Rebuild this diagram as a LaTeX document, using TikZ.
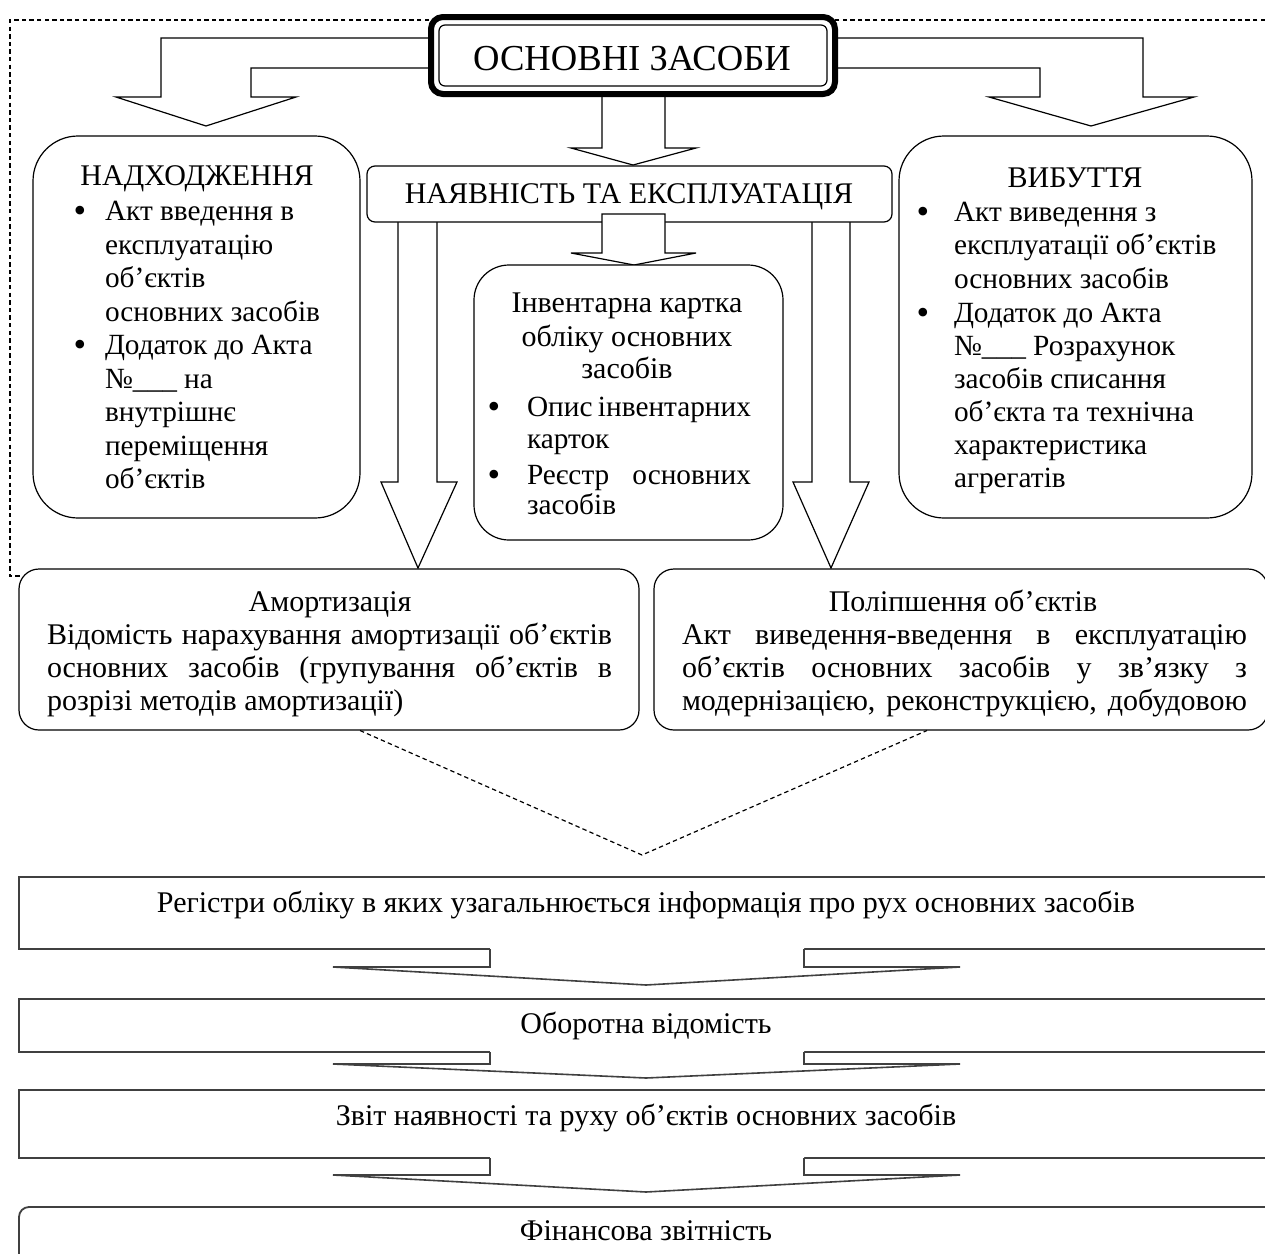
\documentclass[tikz,border=0pt]{standalone}
\usepackage{fontspec}
\setmainfont{Liberation Serif}
\newcommand\fs{\fontsize{15}{17}\selectfont}
\newcommand\fsl{\fontsize{14.65}{17}\selectfont}
\newcommand\fsbig{\fontsize{18.3}{21}\selectfont}
\newcommand\fsbul{\fontsize{18}{20}\selectfont}
\begin{document}
\begin{tikzpicture}[x=0.5pt,y=-0.5pt,
 bx/.style={draw, fill=white, line width=0.6pt, inner sep=0pt, outer sep=0pt},
 tc/.style={anchor=base, inner sep=0pt, outer sep=0pt, font=\fs},
 tl/.style={anchor=base west, inner sep=0pt, outer sep=0pt, font=\fs},
 hl/.style={anchor=base west, inner sep=0pt, outer sep=0pt, font=\fsl},
 bul/.style={anchor=center, inner sep=0pt, outer sep=0pt, font=\fsbul},
 barrow/.style={draw, fill=white, line width=0.6pt, line join=miter},
 dsh/.style={line width=0.6pt, dash pattern=on 2.2pt off 1.6pt},
 fbox/.style={draw=black!75, fill=white, line width=0.9pt, inner sep=0pt, outer sep=0pt},
 farrow/.style={draw=black!75, line width=0.8pt, line join=miter}]
\useasboundingbox (0,0) rectangle (1265,1254);
\clip (0,0) rectangle (1265,1254);
\fill[white] (0,0) rectangle (1265,1254);

% dashed frame
\coordinate (fr1) at (1265,20);
\coordinate (fr2) at (10,20);
\coordinate (fr3) at (10,576);
\coordinate (fr4) at (22,576);
\draw[dsh] (fr1) -- (fr2) -- (fr3) -- (fr4);

% block arrows from the title
\path[barrow] (430,38) -- (161,38) -- (161,97) -- (116,97) -- (206,126) -- (296,97) -- (251,97) -- (251,68) -- (430,68) -- cycle;
\path[barrow] (836,38) -- (1143,38) -- (1143,97) -- (1194,97) -- (1091,126) -- (989,97) -- (1040,97) -- (1040,68) -- (836,68) -- cycle;
\path[barrow] (602,92) -- (602,148) -- (571,148) -- (633,165) -- (696,148) -- (665,148) -- (665,92) -- cycle;

% title
\node[bx, line width=3pt, rounded corners=6pt, minimum width=202pt, minimum height=38.5pt] (title) at (633,55.5) {};
\node[bx, rounded corners=3pt, minimum width=194pt, minimum height=30.5pt] (titlein) at (633,55.5) {};
\node[tc, font=\fsbig] (tt) at (632,70) {ОСНОВНІ ЗАСОБИ};

% side boxes
\node[bx, rounded corners=22.5pt, minimum width=163.5pt, minimum height=191pt] (nadh) at (196.5,327) {};
\node[bx, rounded corners=22.5pt, minimum width=176.5pt, minimum height=191pt] (vyb) at (1075.5,327) {};

\node[tc] (nt) at (197,185) {НАДХОДЖЕННЯ};
\node[bul] (nb1) at (80,214.5) {•};
\node[hl] (n1) at (105,220.5) {Акт введення в};
\node[hl] (n2) at (105,254) {експлуатацію};
\node[hl] (n3) at (105,287.5) {об’єктів};
\node[hl] (n4) at (105,321) {основних засобів};
\node[bul] (nb2) at (80,348.5) {•};
\node[hl] (n5) at (105,354.5) {Додаток до Акта};
\node[hl] (n6) at (105,388) {№\_\_\_\ на};
\node[hl] (n7) at (105,421.5) {внутрішнє};
\node[hl] (n8) at (105,455) {переміщення};
\node[hl] (n9) at (105,488.5) {об’єктів};

\node[tc] (vt) at (1075,187) {ВИБУТТЯ};
\node[bul] (vb1) at (923,215.5) {•};
\node[hl] (v1) at (954,221.5) {Акт виведення з};
\node[hl] (v2) at (954,254.5) {експлуатації об’єктів};
\node[hl] (v3) at (954,288) {основних засобів};
\node[bul] (vb2) at (923,316.5) {•};
\node[hl] (v4) at (954,322.5) {Додаток до Акта};
\node[hl] (v5) at (954,355.5) {№\_\_\_\ Розрахунок};
\node[hl] (v6) at (954,388.5) {засобів списання};
\node[hl] (v7) at (954,421.5) {об’єкта та технічна};
\node[hl] (v8) at (954,454.5) {характеристика};
\node[hl] (v9) at (954,487.5) {агрегатів};

% long arrows from "наявність"
\path[barrow] (398,220) -- (398,482) -- (381,482) -- (418,568) -- (457,482) -- (437,482) -- (437,220) -- cycle;
\path[barrow] (812,220) -- (812,482) -- (793,482) -- (831,568) -- (869,482) -- (850,482) -- (850,220) -- cycle;

% наявність box
\node[bx, rounded corners=4pt, minimum width=262.5pt, minimum height=28pt] (nav) at (629.5,194) {};
\node[tc] (navt) at (629,203) {НАЯВНІСТЬ ТА ЕКСПЛУАТАЦІЯ};

% small arrow to inventory card
\path[barrow] (602,214) -- (602,253) -- (571,253) -- (634,265) -- (696,253) -- (665,253) -- (665,214) -- cycle;

% inventory box
\node[bx, rounded corners=17.5pt, minimum width=154.5pt, minimum height=137.5pt] (inv) at (628.5,402.5) {};
\node[tc] (i1) at (627,312) {Інвентарна картка};
\node[tc] (i2) at (627,346) {обліку основних};
\node[tc] (i3) at (627,378) {засобів};
\node[bul] (ib1) at (494,410) {•};
\node[hl] (i4) at (527,416) {\makebox[112pt][s]{Опис інвентарних}};
\node[hl] (i5) at (527,448) {карток};
\node[bul] (ib2) at (494,478) {•};
\node[hl] (i6) at (527,484) {\makebox[112pt][s]{Реєстр основних}};
\node[hl] (i7) at (527,514) {засобів};

% amortization and improvement
\node[bx, rounded corners=10pt, minimum width=310pt, minimum height=80.5pt] (amort) at (329,649.5) {};
\node[bx, rounded corners=10pt, minimum width=307pt, minimum height=80.5pt] (polip) at (961,649.5) {};

\node[tc] (a0) at (330,611) {Амортизація};
\node[tl] (a1) at (47,644) {\makebox[282.5pt][s]{Відомість нарахування амортизації об’єктів}};
\node[tl] (a2) at (47,677) {\makebox[282.5pt][s]{основних засобів (групування об’єктів в}};
\node[tl] (a3) at (47,710) {розрізі методів амортизації)};

\node[tc] (p0) at (963,611) {Поліпшення об’єктів};
\node[tl] (p1) at (682,644) {\makebox[282.5pt][s]{Акт виведення-введення в експлуатацію}};
\node[tl] (p2) at (682,677) {\makebox[282.5pt][s]{об’єктів основних засобів у зв’язку з}};
\node[tl] (p3) at (682,710) {\makebox[282.5pt][s]{модернізацією, реконструкцією, добудовою}};

% dashed V
\coordinate (apex) at (642,855);
\draw[dsh] (360,730.5) -- (apex) -- (927,730.5);

% bottom chain
\node[fbox, minimum width=628pt, minimum height=36pt] (reg) at (647,913) {};
\node[fbox, minimum width=628pt, minimum height=26.5pt] (obor) at (647,1025.5) {};
\node[fbox, minimum width=628pt, minimum height=34pt] (zvit) at (647,1124) {};
\node[fbox, rounded corners=5pt, minimum width=628pt, minimum height=36.5pt] (fin) at (647,1243.5) {};

\node[tc] (r1) at (646,912) {Регістри обліку в яких узагальнюється інформація про рух основних засобів};
\node[tc] (r2) at (646,1033) {Оборотна відомість};
\node[tc] (r3) at (646,1125) {Звіт наявності та руху об’єктів основних засобів};
\node[tc] (r4) at (646,1240) {Фінансова звітність};

\foreach \t/\b/\p in {949/967/985, 1052/1064/1078, 1158/1175/1192} {
  \fill[white] (490,{\t-2}) -- (490,\b) -- (333,\b) -- (646,\p) -- (960,\b) -- (804,\b) -- (804,{\t-2}) -- cycle;
  \draw[farrow] (490,\t) -- (490,\b) -- (333,\b) -- (646,\p) -- (960,\b) -- (804,\b) -- (804,\t);
}
\end{tikzpicture}
\end{document}
